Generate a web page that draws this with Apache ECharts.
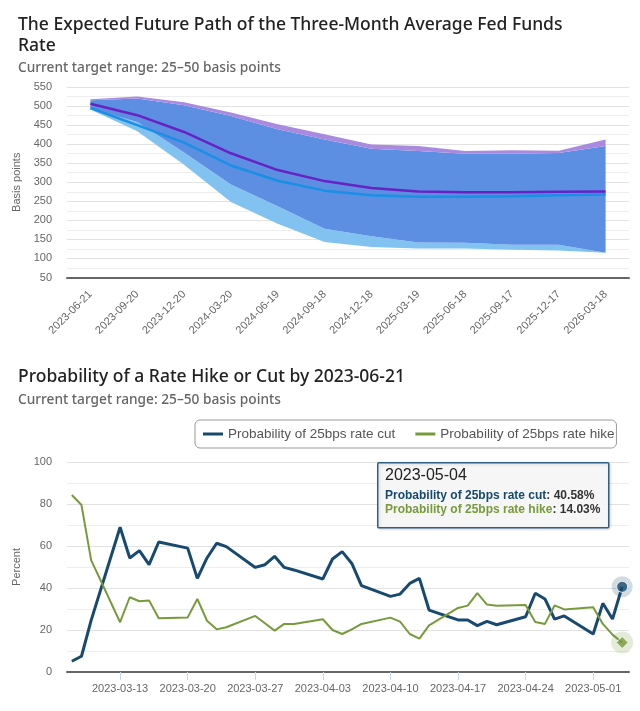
<!DOCTYPE html>
<html><head><meta charset="utf-8">
<script src="https://cdn.jsdelivr.net/npm/echarts@6/dist/echarts.min.js"></script>
<style>html,body{margin:0;padding:0;background:#fff}#c{width:640px;height:711px}</style>
</head><body><div id="c"></div>
<script>
// ---- Top chart data (basis points) ----
const pathDates = ['2023-06-21','2023-09-20','2023-12-20','2024-03-20','2024-06-19','2024-09-18','2024-12-18','2025-03-19','2025-06-18','2025-09-17','2025-12-17','2026-03-18'];
const purpleUpper = [518,525,510,483,452,426,399,395,382,384,383,412];
const blueUpper   = [515,520,502,474,439,412,388,382,375,375,377,395];
const purpleLower = [493,458,378,294,237,178,158,142,141,136,136,115];
const blueLower   = [491,434,346,248,191,143,130,126,126,123,121,114];
const purpleLine  = [506,476,432,376,332,303,285,276,274,274,275,276];
const blueLine    = [495,450,404,344,304,278,266,262,262,263,266,268];

// ---- Bottom chart data (percent) ----
const probDates = ['2023-03-08','2023-03-09','2023-03-10','2023-03-13','2023-03-14','2023-03-15','2023-03-16','2023-03-17','2023-03-20','2023-03-21','2023-03-22','2023-03-23','2023-03-24','2023-03-27','2023-03-28','2023-03-29','2023-03-30','2023-03-31','2023-04-03','2023-04-04','2023-04-05','2023-04-06','2023-04-07','2023-04-10','2023-04-11','2023-04-12','2023-04-13','2023-04-14','2023-04-17','2023-04-18','2023-04-19','2023-04-20','2023-04-21','2023-04-24','2023-04-25','2023-04-26','2023-04-27','2023-04-28','2023-05-01','2023-05-02','2023-05-03','2023-05-04'];
const cutProb  = [5.1,7.5,24.6,68.9,54.3,57.8,51.1,61.9,59.0,44.6,54.3,61.3,59.7,49.8,51.1,55.1,49.8,48.6,44.3,53.8,57.3,51.7,41.1,36.0,37.1,42.2,44.6,29.5,24.8,24.8,22.1,24.1,22.5,26.3,37.5,34.8,25.2,26.7,18.1,32.7,25.2,40.58];
const hikeProb = [84.3,79.5,53.3,23.7,35.6,33.7,34.1,25.6,26.0,34.8,24.4,20.3,21.3,26.7,23.2,19.7,22.9,22.9,25.1,20.0,18.1,20.3,22.9,25.9,24.0,18.1,15.9,22.2,30.5,31.6,37.6,32.1,31.6,31.9,23.8,22.9,31.7,29.8,30.8,22.9,17.8,14.03];
const weekTicks = ['2023-03-13','2023-03-20','2023-03-27','2023-04-03','2023-04-10','2023-04-17','2023-04-24','2023-05-01'];

const cutName = 'Probability of 25bps rate cut';
const hikeName = 'Probability of 25bps rate hike';

const FONT = "'Liberation Sans', Arial, sans-serif";
const TFONT = "'Noto Sans', 'Liberation Sans', sans-serif";
const NAVY = '#174a6e', GREEN = '#789a3c';

const toTs = s => { const p = s.split('-').map(Number); return new Date(p[0], p[1]-1, p[2]).getTime(); };
const fmt = v => { const d = new Date(v); const z = n => (n<10?'0':'')+n; return d.getFullYear()+'-'+z(d.getMonth()+1)+'-'+z(d.getDate()); };
const diff = (a,b) => a.map((v,i) => +(v - b[i]).toFixed(2));

const last = probDates.length - 1;
const lastTs = toTs(probDates[last]);
const tickTs = weekTicks.map(toTs);

const chart = echarts.init(document.getElementById('c'));
const bandLine = {opacity:0};
chart.setOption({
  animation:false,
  textStyle:{fontFamily:FONT},
  title:[
    {text:'The Expected Future Path of the Three-Month Average Fed Funds\nRate', left:18, top:14.5, padding:0,
     textStyle:{fontFamily:TFONT, fontSize:17.5, fontWeight:500, color:'#222', lineHeight:21}},
    {text:'Current target range: 25–50 basis points', left:18, top:61, padding:0,
     textStyle:{fontFamily:TFONT, fontSize:13.7, fontWeight:500, color:'#666'}},
    {text:'Probability of a Rate Hike or Cut by 2023-06-21', left:18, top:366.5, padding:0,
     textStyle:{fontFamily:TFONT, fontSize:17.5, fontWeight:500, color:'#222', lineHeight:21}},
    {text:'Current target range: 25–50 basis points', left:18, top:393, padding:0,
     textStyle:{fontFamily:TFONT, fontSize:13.7, fontWeight:500, color:'#666'}}
  ],
  legend:{
    data:[cutName, hikeName], left:195, top:420, icon:'rect', itemWidth:20, itemHeight:3, itemGap:20,
    borderColor:'#999', borderWidth:1, borderRadius:5, padding:[7,2,7,8],
    textStyle:{color:'#555', fontSize:13.5}
  },
  grid:[
    {left:67, right:11, top:87, height:190.5},
    {left:67, right:11, top:462, height:210}
  ],
  xAxis:[
    {type:'category', gridIndex:0, data:pathDates, boundaryGap:true,
     axisLabel:{rotate:45, interval:0, fontSize:11, color:'#666', margin:15},
     axisTick:{show:false}, axisLine:{lineStyle:{color:'#666', width:2}}, splitLine:{show:false}},
    {type:'value', gridIndex:1, min:new Date(2023,2,7,12).getTime(), max:new Date(2023,4,4,17).getTime(), scale:true,
     axisLabel:{customValues:tickTs, formatter:v => fmt(v), fontSize:11, color:'#666', margin:11, hideOverlap:false},
     axisTick:{customValues:tickTs, length:8, lineStyle:{color:'#ccd6eb'}},
     axisLine:{lineStyle:{color:'#666', width:2}}, splitLine:{show:false}}
  ],
  yAxis:[
    {type:'value', gridIndex:0, min:50, max:550, interval:50,
     name:'Basis points', nameLocation:'middle', nameGap:37, nameTextStyle:{color:'#666', fontSize:11},
     axisLabel:{color:'#666', fontSize:11, margin:15},
     axisLine:{show:false}, axisTick:{show:false},
     splitLine:{lineStyle:{color:'#e2e2e2'}},
     minorTick:{show:false, splitNumber:2}, minorSplitLine:{show:true, lineStyle:{color:'#eeeeee'}}},
    {type:'value', gridIndex:1, min:0, max:100, interval:20,
     name:'Percent', nameLocation:'middle', nameGap:37, nameTextStyle:{color:'#666', fontSize:11},
     axisLabel:{color:'#666', fontSize:11, margin:15},
     axisLine:{show:false}, axisTick:{show:false},
     splitLine:{lineStyle:{color:'#e2e2e2'}},
     minorTick:{show:false, splitNumber:2}, minorSplitLine:{show:true, lineStyle:{color:'#eeeeee'}}}
  ],
  series:[
    {type:'line', xAxisIndex:0, yAxisIndex:0, stack:'band', data:blueLower, symbol:'none', lineStyle:bandLine, silent:true},
    {type:'line', xAxisIndex:0, yAxisIndex:0, stack:'band', data:diff(purpleLower, blueLower), symbol:'none', lineStyle:bandLine,
     areaStyle:{color:'#82c2f1', opacity:1}, silent:true},
    {type:'line', xAxisIndex:0, yAxisIndex:0, stack:'band', data:diff(blueUpper, purpleLower), symbol:'none', lineStyle:bandLine,
     areaStyle:{color:'#5c8ee2', opacity:1}, silent:true},
    {type:'line', xAxisIndex:0, yAxisIndex:0, stack:'band', data:diff(purpleUpper, blueUpper), symbol:'none', lineStyle:bandLine,
     areaStyle:{color:'#a98ade', opacity:1}, silent:true},
    {type:'line', xAxisIndex:0, yAxisIndex:0, data:purpleLine, symbol:'none', lineStyle:{color:'#6822c4', width:2.5}, z:4},
    {type:'line', xAxisIndex:0, yAxisIndex:0, data:blueLine, symbol:'none', lineStyle:{color:'#1a8fe6', width:2.5}, z:4},

    {name:cutName, type:'line', xAxisIndex:1, yAxisIndex:1, data:probDates.map((d,i)=>[toTs(d), cutProb[i]]),
     symbol:'none', lineStyle:{color:NAVY, width:3}, itemStyle:{color:NAVY}, z:3},
    {name:hikeName, type:'line', xAxisIndex:1, yAxisIndex:1, data:probDates.map((d,i)=>[toTs(d), hikeProb[i]]),
     symbol:'none', lineStyle:{color:GREEN, width:2}, itemStyle:{color:GREEN}, z:4},
    {type:'scatter', xAxisIndex:1, yAxisIndex:1, data:[[lastTs, cutProb[last]]], symbolSize:21, clip:false, silent:true,
     itemStyle:{color:'rgba(23,74,110,0.25)'}, z:5},
    {type:'scatter', xAxisIndex:1, yAxisIndex:1, data:[[lastTs, cutProb[last]]], symbolSize:11, clip:false, silent:true,
     itemStyle:{color:NAVY, borderColor:'#fff', borderWidth:1}, z:6},
    {type:'scatter', xAxisIndex:1, yAxisIndex:1, data:[[lastTs, hikeProb[last]]], symbolSize:22, clip:false, silent:true,
     itemStyle:{color:'rgba(120,154,60,0.25)'}, z:5},
    {type:'scatter', xAxisIndex:1, yAxisIndex:1, data:[[lastTs, hikeProb[last]]], symbol:'diamond', symbolSize:12, clip:false, silent:true,
     itemStyle:{color:GREEN, borderColor:'#fff', borderWidth:1}, z:6}
  ],
  graphic:[
    {type:'rect', left:377, top:462, z:100, shape:{width:231, height:65, r:1},
     style:{fill:'rgba(247,247,247,0.97)', stroke:'#2f5f82', lineWidth:1.5,
            shadowBlur:3, shadowColor:'rgba(0,0,0,0.15)', shadowOffsetX:1, shadowOffsetY:1}},
    {type:'text', left:385, top:468, z:101, style:{text:probDates[last], fontSize:16, fontFamily:FONT, fill:'#222'}},
    {type:'text', left:385, top:488, z:101, style:{
      text:'{c|'+cutName+'}{v|: '+cutProb[last].toFixed(2)+'%}\n{h|'+hikeName+'}{v|: '+hikeProb[last].toFixed(2)+'%}',
      fontSize:12, fontFamily:FONT, lineHeight:14.5,
      rich:{
        c:{fill:NAVY, fontWeight:'bold', fontSize:12, fontFamily:FONT, lineHeight:14.5},
        h:{fill:GREEN, fontWeight:'bold', fontSize:12, fontFamily:FONT, lineHeight:14.5},
        v:{fill:'#333', fontWeight:'bold', fontSize:12, fontFamily:FONT, lineHeight:14.5}
      }}}
  ]
});
</script></body></html>
